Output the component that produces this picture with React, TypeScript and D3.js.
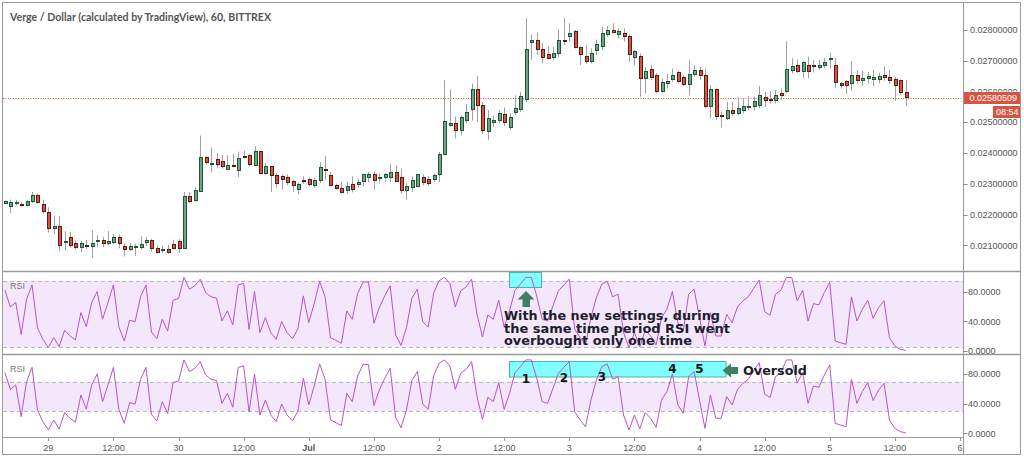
import React from "react";
import * as d3 from "d3";

const TITLE = "Verge / Dollar (calculated by TradingView), 60, BITTREX";
const FIRST_BAR = new Date(2018, 5, 28, 16, 0);
const AXIS_START = new Date(2018, 5, 29, 0, 0);
const AXIS_END = new Date(2018, 6, 6, 0, 0);

const opens = [
  0.02237,0.02226,0.02238,0.02234,0.02229,0.02241,0.02262,0.02233,0.02207,0.02154,
  0.02161,0.02111,0.02124,0.02107,0.02092,0.02098,0.02095,0.02112,0.02115,0.02106,
  0.02110,0.02124,0.02096,0.02085,0.02094,0.02092,0.02110,0.02116,0.02088,0.02085,
  0.02085,0.02102,0.02112,0.02090,0.02259,0.02246,0.02276,0.02387,0.02362,0.02378,
  0.02374,0.02346,0.02359,0.02342,0.02388,0.02393,0.02361,0.02406,0.02332,0.02356,
  0.02326,0.02324,0.02321,0.02306,0.02281,0.02311,0.02315,0.02294,0.02310,0.02347,
  0.02327,0.02295,0.02286,0.02279,0.02299,0.02297,0.02306,0.02319,0.02330,0.02319,
  0.02319,0.02322,0.02336,0.02322,0.02277,0.02287,0.02290,0.02322,0.02314,0.02313,
  0.02331,0.02395,0.02490,0.02496,0.02474,0.02505,0.02541,0.02607,0.02556,0.02469,
  0.02500,0.02505,0.02524,0.02483,0.02532,0.02541,0.02574,0.02759,0.02765,0.02737,
  0.02719,0.02711,0.02722,0.02766,0.02778,0.02795,0.02743,0.02715,0.02697,0.02732,
  0.02746,0.02784,0.02800,0.02785,0.02789,0.02778,0.02711,0.02715,0.02641,0.02672,
  0.02653,0.02601,0.02626,0.02639,0.02662,0.02646,0.02624,0.02656,0.02668,0.02652,
  0.02550,0.02605,0.02521,0.02512,0.02539,0.02529,0.02537,0.02548,0.02550,0.02553,
  0.02580,0.02575,0.02570,0.02592,0.02599,0.02668,0.02683,0.02666,0.02686,0.02686,
  0.02677,0.02683,0.02704,0.02686,0.02626,0.02632,0.02626,0.02653,0.02635,0.02643,
  0.02639,0.02640,0.02651,0.02646,0.02640,0.02637,0.02596,
];
const highs = [
  0.02246,0.02249,0.02248,0.02241,0.02246,0.02273,0.02268,0.02249,0.02223,0.02197,
  0.02196,0.02146,0.02143,0.02116,0.02116,0.02118,0.02148,0.02133,0.02127,0.02146,
  0.02137,0.02135,0.02107,0.02107,0.02105,0.02129,0.02127,0.02121,0.02099,0.02099,
  0.02102,0.02118,0.02120,0.02273,0.02272,0.02289,0.02457,0.02390,0.02418,0.02399,
  0.02394,0.02393,0.02396,0.02405,0.02407,0.02396,0.02422,0.02407,0.02368,0.02357,
  0.02335,0.02330,0.02331,0.02313,0.02304,0.02324,0.02320,0.02319,0.02370,0.02391,
  0.02338,0.02300,0.02306,0.02306,0.02324,0.02317,0.02333,0.02339,0.02339,0.02333,
  0.02335,0.02366,0.02360,0.02349,0.02301,0.02324,0.02333,0.02331,0.02325,0.02333,
  0.02404,0.02637,0.02607,0.02518,0.02523,0.02559,0.02626,0.02650,0.02566,0.02539,
  0.02523,0.02539,0.02548,0.02529,0.02588,0.02599,0.02838,0.02784,0.02792,0.02757,
  0.02746,0.02746,0.02802,0.02838,0.02822,0.02800,0.02746,0.02751,0.02740,0.02769,
  0.02811,0.02813,0.02822,0.02805,0.02805,0.02786,0.02735,0.02724,0.02680,0.02686,
  0.02659,0.02643,0.02657,0.02675,0.02667,0.02653,0.02702,0.02686,0.02680,0.02675,
  0.02621,0.02610,0.02534,0.02566,0.02566,0.02583,0.02574,0.02585,0.02583,0.02618,
  0.02599,0.02602,0.02605,0.02610,0.02764,0.02708,0.02704,0.02700,0.02713,0.02702,
  0.02702,0.02708,0.02726,0.02708,0.02632,0.02637,0.02699,0.02670,0.02667,0.02664,
  0.02670,0.02661,0.02681,0.02670,0.02648,0.02639,0.02637,
];
const lows = [
  0.02235,0.02205,0.02230,0.02226,0.02226,0.02237,0.02235,0.02203,0.02141,0.02137,
  0.02081,0.02083,0.02092,0.02087,0.02078,0.02087,0.02059,0.02094,0.02094,0.02099,
  0.02105,0.02090,0.02063,0.02081,0.02066,0.02087,0.02099,0.02081,0.02074,0.02074,
  0.02072,0.02090,0.02074,0.02088,0.02237,0.02241,0.02273,0.02363,0.02338,0.02351,
  0.02349,0.02344,0.02353,0.02322,0.02383,0.02357,0.02358,0.02330,0.02328,0.02273,
  0.02287,0.02281,0.02296,0.02274,0.02266,0.02300,0.02292,0.02287,0.02302,0.02313,
  0.02294,0.02281,0.02268,0.02268,0.02272,0.02287,0.02292,0.02306,0.02281,0.02301,
  0.02306,0.02306,0.02306,0.02268,0.02248,0.02273,0.02288,0.02295,0.02295,0.02306,
  0.02306,0.02393,0.02485,0.02447,0.02458,0.02496,0.02505,0.02501,0.02463,0.02442,
  0.02485,0.02496,0.02487,0.02474,0.02523,0.02534,0.02566,0.02702,0.02719,0.02691,
  0.02704,0.02702,0.02713,0.02751,0.02762,0.02740,0.02686,0.02691,0.02691,0.02719,
  0.02735,0.02778,0.02789,0.02773,0.02762,0.02697,0.02686,0.02583,0.02594,0.02637,
  0.02594,0.02596,0.02610,0.02632,0.02626,0.02618,0.02588,0.02648,0.02637,0.02545,
  0.02512,0.02507,0.02483,0.02507,0.02520,0.02523,0.02529,0.02539,0.02539,0.02545,
  0.02550,0.02561,0.02561,0.02572,0.02596,0.02659,0.02661,0.02643,0.02643,0.02664,
  0.02670,0.02675,0.02675,0.02613,0.02610,0.02592,0.02602,0.02626,0.02618,0.02626,
  0.02618,0.02626,0.02635,0.02624,0.02570,0.02588,0.02553,
];
const closes = [
  0.02244,0.02239,0.02239,0.02229,0.02243,0.02262,0.02238,0.02209,0.02153,0.02162,
  0.02098,0.02113,0.02100,0.02094,0.02105,0.02095,0.02107,0.02116,0.02105,0.02111,
  0.02124,0.02107,0.02085,0.02095,0.02095,0.02102,0.02115,0.02088,0.02078,0.02086,
  0.02077,0.02090,0.02090,0.02259,0.02241,0.02279,0.02387,0.02368,0.02366,0.02364,
  0.02355,0.02359,0.02356,0.02382,0.02384,0.02362,0.02406,0.02332,0.02357,0.02326,
  0.02300,0.02313,0.02304,0.02294,0.02298,0.02309,0.02298,0.02311,0.02353,0.02344,
  0.02294,0.02284,0.02273,0.02290,0.02283,0.02304,0.02330,0.02331,0.02311,0.02322,
  0.02331,0.02336,0.02309,0.02277,0.02290,0.02311,0.02331,0.02303,0.02301,0.02328,
  0.02396,0.02504,0.02496,0.02474,0.02515,0.02531,0.02607,0.02556,0.02474,0.02512,
  0.02507,0.02529,0.02498,0.02515,0.02545,0.02583,0.02738,0.02765,0.02737,0.02711,
  0.02708,0.02724,0.02765,0.02763,0.02787,0.02743,0.02719,0.02697,0.02722,0.02753,
  0.02787,0.02800,0.02792,0.02795,0.02778,0.02719,0.02729,0.02641,0.02664,0.02646,
  0.02601,0.02628,0.02634,0.02653,0.02632,0.02624,0.02656,0.02668,0.02651,0.02550,
  0.02605,0.02518,0.02518,0.02539,0.02529,0.02545,0.02550,0.02552,0.02566,0.02586,
  0.02572,0.02572,0.02586,0.02586,0.02670,0.02680,0.02666,0.02694,0.02666,0.02683,
  0.02684,0.02694,0.02708,0.02628,0.02621,0.02618,0.02653,0.02635,0.02643,0.02650,
  0.02644,0.02648,0.02644,0.02635,0.02621,0.02596,0.02580509,
];
const rsiValues = [
  82.2,59.6,65.5,22.5,70.0,89.4,31.6,15.8,4.5,18.0,
  5.8,28.0,20.3,14.9,51.9,32.9,65.5,80.4,42.9,65.5,
  89.4,32.5,13.5,41.5,39.7,73.2,89.4,25.7,16.7,42.9,
  27.1,68.6,70.9,99.4,83.6,88.1,97.1,79.0,73.2,71.4,
  40.6,54.2,35.2,89.4,91.3,28.9,80.4,24.8,45.2,24.8,
  15.8,39.7,24.8,16.7,30.2,74.5,38.4,64.1,94.0,73.2,
  18.0,14.4,10.4,54.2,42.9,77.7,93.1,93.1,37.5,58.7,
  74.5,88.1,21.6,7.6,31.6,71.4,83.6,39.7,32.5,77.7,
  94.9,99.4,91.3,59.6,81.3,86.7,97.1,49.7,18.9,48.8,
  42.9,68.6,32.5,54.2,82.2,90.3,99.5,99.5,74.5,42.9,
  40.6,61.0,81.3,89.4,97.1,29.3,18.0,9.0,45.2,72.3,
  90.3,94.0,73.2,76.8,24.8,4.5,24.8,5.8,28.0,20.3,
  8.1,45.2,56.5,80.4,38.4,27.1,76.8,83.6,45.2,6.7,
  51.9,20.3,20.3,49.7,38.4,59.6,67.8,73.2,84.9,95.8,
  53.3,48.3,76.8,82.2,99.4,99.4,67.8,82.2,40.6,64.1,
  62.3,79.0,92.6,13.5,11.2,9.0,73.2,40.6,56.5,68.6,
  44.2,58.7,67.8,18.0,6.7,2.2,0.8,
];

const priceTicks = [0.021, 0.022, 0.023, 0.024, 0.025, 0.026, 0.027, 0.028];
const rsiTicks = [0, 40, 80];
const bandsTop = [95, 5];
const bandsBottom = [70, 30];
const lastPriceText = "0.02580509";
const countdownText = "08:54";
const noteLines = ["With the new settings, during", "the same time period RSI went", "overbought only one time"];
const markerLabels = ["1", "2", "3", "4", "5"];
const markerBars = [96, 103, 110, 123, 128];
const oversoldText = "Oversold";

const AXIS_FONT = "'Liberation Sans', Arial, sans-serif";
const NOTE_FONT = "'DejaVu Sans', Verdana, sans-serif";

export default function App() {
  const W = 1024, H = 456;
  const AX = 963.5;
  const x = d3.scaleTime().domain([AXIS_START, AXIS_END]).range([48.3, 960]);
  const barTimes = opens.map((_, i) => d3.timeHour.offset(FIRST_BAR, i));
  const y = d3.scaleLinear().domain([0.021, 0.028]).range([245.3, 30]);
  const yR1 = d3.scaleLinear().domain([0, 100]).range([351, 277]);
  const yR2 = d3.scaleLinear().domain([0, 100]).range([433.3, 359.5]);
  const timeTicks = d3.timeHour.every(12)!.range(AXIS_START, d3.timeHour.offset(AXIS_END, 1));
  const fmtTick = (d: Date) =>
    d.getHours() === 12 ? "12:00" : d.getDate() === 1 ? d3.timeFormat("%b")(d) : d3.timeFormat("%-d")(d);

  const lineTop = d3.line<number>().x((_, i) => x(barTimes[i])).y((v) => yR1(v));
  const lineBot = d3.line<number>().x((_, i) => x(barTimes[i])).y((v) => yR2(v));

  const frame = "#9a9a9a";
  const rsiColor = "#b356cc";
  const bandFill = "#f4e7fc";
  const lastY = Math.round(y(closes[closes.length - 1])) + 0.5;

  return (
    <svg width={W} height={H} style={{ position: "absolute", left: 0, top: 0, background: "#fff" }}>
      <defs>
        <clipPath id="plotClip">
          <rect x={3} y={3} width={AX - 3} height={435} />
        </clipPath>
        <clipPath id="axisClip">
          <rect x={AX} y={3} width={60} height={88.5} />
          <rect x={AX} y={104} width={60} height={334} />
        </clipPath>
      </defs>
      <rect x={0} y={0} width={W} height={H} fill="#fff" />

      {/* title */}
      <text x={10} y={20.5} fontFamily="Lato, 'Open Sans', sans-serif" fontWeight={700} fontSize={10.5}
        fill="#555" textLength={261} lengthAdjust="spacingAndGlyphs">{TITLE}</text>

      {/* RSI panel backgrounds */}
      <g clipPath="url(#plotClip)">
        <rect x={3} y={yR1(bandsTop[0])} width={AX - 3} height={yR1(bandsTop[1]) - yR1(bandsTop[0])} fill={bandFill} />
        <rect x={3} y={yR2(bandsBottom[0])} width={AX - 3} height={yR2(bandsBottom[1]) - yR2(bandsBottom[0])} fill={bandFill} />
        {bandsTop.map((b) => (
          <line key={"bt" + b} x1={3} x2={AX} y1={Math.round(yR1(b)) + 0.5} y2={Math.round(yR1(b)) + 0.5}
            stroke="#b8b8b8" strokeDasharray="4,3" />
        ))}
        {bandsBottom.map((b) => (
          <line key={"bb" + b} x1={3} x2={AX} y1={Math.round(yR2(b)) + 0.5} y2={Math.round(yR2(b)) + 0.5}
            stroke="#b8b8b8" strokeDasharray="4,3" />
        ))}
      </g>

      {/* annotation boxes under the RSI lines */}
      <rect x={509.5} y={272.5} width={32} height={15} fill="#80ffff" stroke="#4fb0b0" strokeWidth={1} />
      <rect x={509.5} y={361.5} width={216.5} height={15.5} fill="#80ffff" stroke="#4fb0b0" strokeWidth={1} />

      {/* candles */}
      <g clipPath="url(#plotClip)">
        <line x1={3} x2={AX} y1={lastY} y2={lastY} stroke="#e3503e" strokeWidth={1} strokeDasharray="1,1.5" />
        {opens.map((o, i) => {
          const c = closes[i];
          const up = c >= o;
          const cx = Math.round(x(barTimes[i])) + 0.5;
          const top = y(Math.max(o, c));
          const bot = y(Math.min(o, c));
          const h = Math.max(1, bot - top);
          return (
            <g key={i}>
              <line x1={cx} x2={cx} y1={y(highs[i])} y2={y(lows[i])} stroke="#a0a0a0" strokeWidth={1} />
              <rect x={cx - 1.5} y={top} width={3} height={h} fill={up ? "#6ba583" : "#d75442"}
                stroke={up ? "#225437" : "#5b1a13"} strokeWidth={1} shapeRendering="crispEdges" />
            </g>
          );
        })}
        <path d={lineTop(rsiValues) || ""} fill="none" stroke={rsiColor} strokeWidth={1} />
        <path d={lineBot(rsiValues) || ""} fill="none" stroke={rsiColor} strokeWidth={1} />
      </g>

      {/* frame & separators */}
      <rect x={2.5} y={2.5} width={1018} height={452} fill="none" stroke={frame} />
      <line x1={2.5} x2={1020.5} y1={271.5} y2={271.5} stroke={frame} strokeWidth={1.5} />
      <line x1={2.5} x2={1020.5} y1={354.5} y2={354.5} stroke={frame} strokeWidth={1.5} />
      <line x1={2.5} x2={AX} y1={437.5} y2={437.5} stroke={frame} />
      <line x1={AX} x2={AX} y1={2.5} y2={437.5} stroke={frame} />

      {/* price axis */}
      <g clipPath="url(#axisClip)">
        {priceTicks.map((p) => (
          <g key={"p" + p}>
            <line x1={AX} x2={AX + 4} y1={Math.round(y(p)) + 0.5} y2={Math.round(y(p)) + 0.5} stroke="#888" />
            <text x={970} y={y(p) + 3.2} fontFamily={AXIS_FONT} fontSize={9} fill="#555">{p.toFixed(8)}</text>
          </g>
        ))}
      </g>
      <rect x={964} y={92} width={56} height={12} fill="#d75442" />
      <text x={969.5} y={101.3} fontFamily={AXIS_FONT} fontSize={9} fill="#fff">{lastPriceText}</text>
      <rect x={993} y={106} width={27} height={12} fill="#d75442" />
      <text x={996} y={115.3} fontFamily={AXIS_FONT} fontSize={9} fill="#fff">{countdownText}</text>

      {/* RSI axes */}
      {rsiTicks.map((t) => (
        <g key={"r" + t}>
          <line x1={AX} x2={AX + 4} y1={Math.round(yR1(t)) + 0.5} y2={Math.round(yR1(t)) + 0.5} stroke="#888" />
          <text x={968} y={yR1(t) + 3.2} fontFamily={AXIS_FONT} fontSize={9} fill="#555">{t.toFixed(4)}</text>
          <line x1={AX} x2={AX + 4} y1={Math.round(yR2(t)) + 0.5} y2={Math.round(yR2(t)) + 0.5} stroke="#888" />
          <text x={968} y={yR2(t) + 3.2} fontFamily={AXIS_FONT} fontSize={9} fill="#555">{t.toFixed(4)}</text>
        </g>
      ))}
      <text x={10} y={289} fontFamily={AXIS_FONT} fontSize={9} fill="#777">RSI</text>
      <text x={10} y={372} fontFamily={AXIS_FONT} fontSize={9} fill="#777">RSI</text>

      {/* time axis */}
      <g>
        {timeTicks.map((d) => (
          <g key={"t" + d.getTime()}>
            <line x1={Math.round(x(d)) + 0.5} x2={Math.round(x(d)) + 0.5} y1={438} y2={441} stroke="#999" />
            <text x={x(d)} y={451} textAnchor="middle" fontFamily={AXIS_FONT} fontSize={9}
              fontWeight={d.getDate() === 1 && d.getHours() === 0 ? 700 : 400} fill="#555">{fmtTick(d)}</text>
          </g>
        ))}
      </g>
      <rect x={AX + 0.5} y={438} width={W - AX} height={16} fill="#fff" />
      <line x1={AX} x2={AX} y1={437.5} y2={454} stroke={frame} />
      <line x1={1020.5} x2={1020.5} y1={2.5} y2={454.5} stroke={frame} />

      {/* annotations */}
      <polygon points="526,291 517.5,299.5 522.5,299.5 522.5,307 530,307 530,299.5 534.5,299.5" fill="#3f7f63" />
      {noteLines.map((t, i) => (
        <text key={"n" + i} x={504} y={320 + i * 12.5} fontFamily={NOTE_FONT} fontWeight={700} fontSize={11.5}
          fill="#1d1d2b" textLength={[216, 226, 188][i]} lengthAdjust="spacingAndGlyphs">{t}</text>
      ))}
      {markerLabels.map((m, i) => (
        <text key={"m" + i} x={x(barTimes[markerBars[i]])} y={[383, 382, 381, 372.5, 372.5][i]} textAnchor="middle"
          fontFamily={NOTE_FONT} fontWeight={700} fontSize={12} fill="#111">{m}</text>
      ))}
      <polygon points="722.5,370.5 731,363.5 731,367 738,367 738,374 731,374 731,377.5" fill="#3f7f63" />
      <text x={743} y={374.5} fontFamily={NOTE_FONT} fontWeight={700} fontSize={13} fill="#1d1d2b"
        textLength={64} lengthAdjust="spacingAndGlyphs">{oversoldText}</text>
    </svg>
  );
}
